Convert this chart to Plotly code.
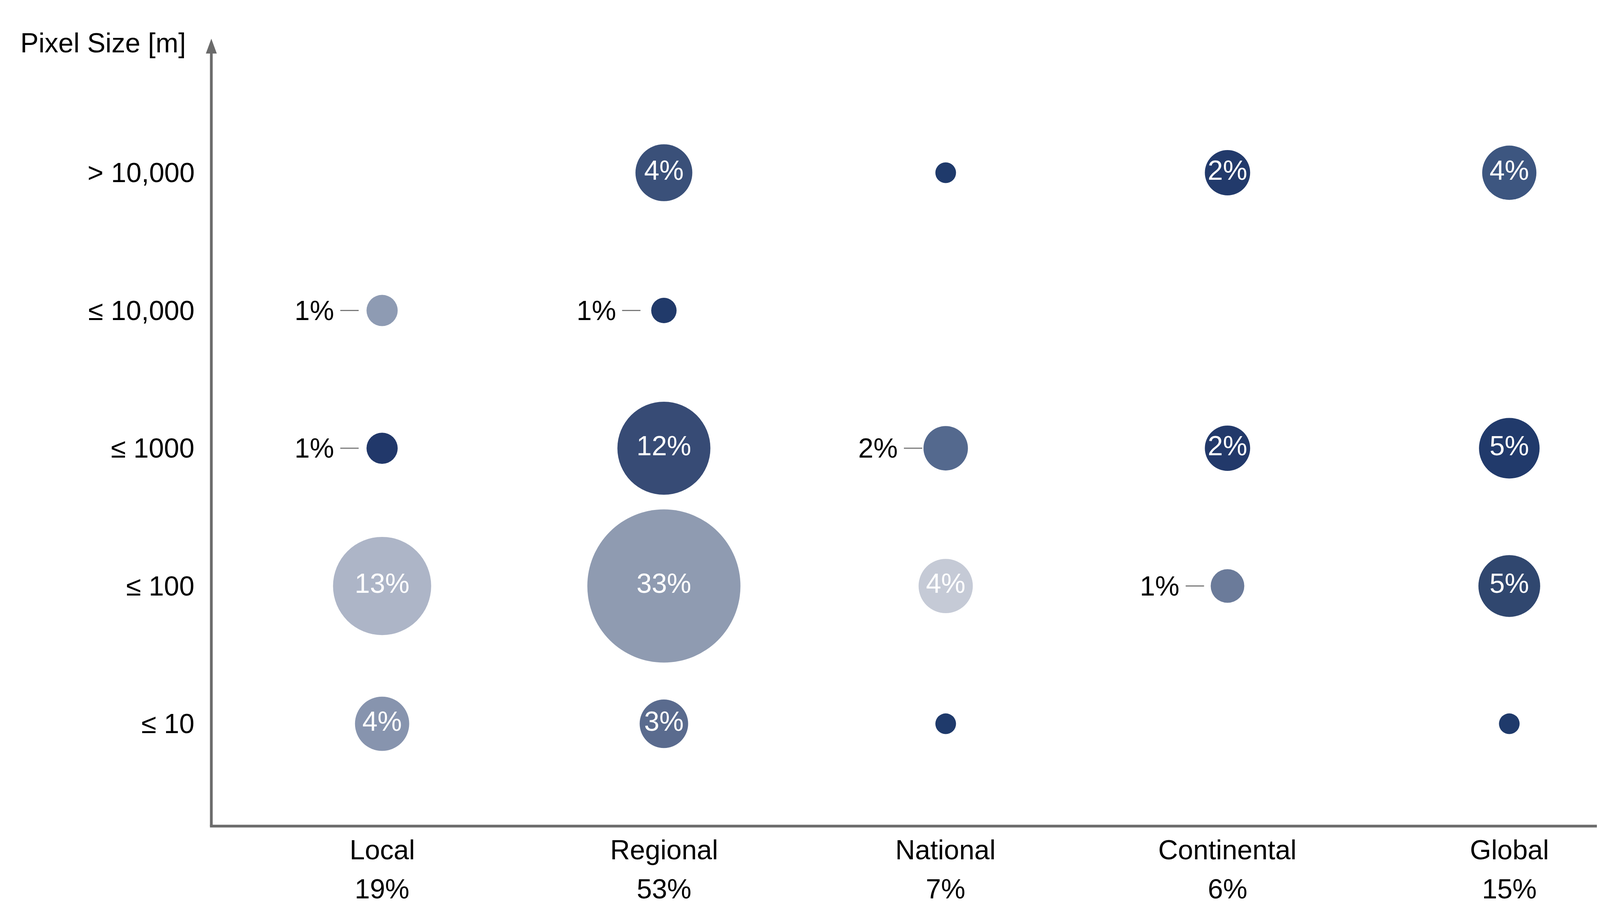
import plotly.graph_objects as go

# ---------------- data ----------------
categories = ["Local", "Regional", "National", "Continental", "Global"]
category_totals = ["19%", "53%", "7%", "6%", "15%"]
pixel_sizes = ["≤ 10", "≤ 100", "≤ 1000", "≤ 10,000", "> 10,000"]
axis_title = "Pixel Size [m]"

# shares (%) per category, ordered as pixel_sizes; None = no bubble
# (consistent with the rounded labels)
share_local = [3.6, 13, 1.0, 1.0, None]
share_regional = [2.8, 33, 11.6, 0.6, 4.0]
share_national = [0.35, 3.6, 2.3, None, 0.35]
share_continental = [None, 1.2, 2.4, None, 2.4]
share_global = [0.35, 4.8, 4.6, None, 3.6]
shares = [share_local, share_regional, share_national, share_continental, share_global]

# bubbles whose label is drawn outside, to the left with a leader line
outside_labels = [
    ("Local", "≤ 10,000"),
    ("Local", "≤ 1000"),
    ("Regional", "≤ 10,000"),
    ("National", "≤ 1000"),
    ("Continental", "≤ 100"),
]

# ---------------- styles ----------------
colors_local = ["#8794ae", "#adb5c7", "#21386a", "#8e9bb3", None]
colors_regional = ["#5a6b8e", "#8f9bb1", "#374b75", "#213a6a", "#3a5079"]
colors_national = ["#1f3a6b", "#c5cad6", "#54698e", None, "#1f3a6b"]
colors_continental = [None, "#6b7b9a", "#22396a", None, "#223a6b"]
colors_global = ["#1f3a6b", "#30476f", "#213a6b", None, "#3d5680"]
colors = [colors_local, colors_regional, colors_national, colors_continental, colors_global]

FONT = "Arial, Liberation Sans, sans-serif"
FS = 70
AXIS_COLOR = "#6b6b6b"
W, H = 4312, 2321
ML, MR, MT, MB = 533, 14, 91, 215


def bubble_diameter(v):
    return 14 + 65.8 * v ** 0.5


fig = go.Figure()
annotations = []
shapes = []

for ci, (cat, vals, cols) in enumerate(zip(categories, shares, colors)):
    xs, ys, sizes, fills, texts = [], [], [], [], []
    for ri, v in enumerate(vals):
        if v is None:
            continue
        label = f"{round(v)}%" if v >= 0.5 else ""
        xs.append(ci)
        ys.append(ri)
        sizes.append(bubble_diameter(v))
        fills.append(cols[ri])
        if (cat, pixel_sizes[ri]) in outside_labels:
            annotations.append(dict(
                x=ci, y=ri, xref="x", yref="y", text=label, showarrow=False,
                xanchor="right", yanchor="middle", xshift=-121,
                font=dict(family=FONT, size=FS, color="#000000")))
            shapes.append(dict(
                type="line", xref="x", yref="y",
                xsizemode="pixel", xanchor=ci, x0=-107, x1=-60,
                ysizemode="pixel", yanchor=ri, y0=0, y1=0,
                line=dict(color="#7a7a7a", width=3)))
            label = ""
        texts.append(label)
    fig.add_trace(go.Scatter(
        x=xs, y=ys, mode="markers+text", name=cat, showlegend=False,
        marker=dict(size=sizes, sizemode="diameter", color=fills, opacity=1,
                    line=dict(width=0)),
        text=texts, textposition="middle center",
        textfont=dict(family=FONT, size=FS, color="#ffffff"),
        cliponaxis=False,
    ))

# y-axis category labels
for ri, lab in enumerate(pixel_sizes):
    annotations.append(dict(
        x=0, y=ri, xref="paper", yref="y", text=lab, showarrow=False,
        xanchor="right", yanchor="middle", xshift=-41,
        font=dict(family=FONT, size=FS, color="#000000")))

# x-axis category labels and totals
for ci, (cat, tot) in enumerate(zip(categories, category_totals)):
    annotations.append(dict(
        x=ci, y=0, xref="x", yref="paper", text=cat, showarrow=False,
        xanchor="center", yanchor="middle", yshift=-61,
        font=dict(family=FONT, size=FS, color="#000000")))
    annotations.append(dict(
        x=ci, y=0, xref="x", yref="paper", text=tot, showarrow=False,
        xanchor="center", yanchor="middle", yshift=-161,
        font=dict(family=FONT, size=FS, color="#000000")))

# axis title
annotations.append(dict(
    x=0, y=1, xref="paper", yref="paper", text=axis_title, showarrow=False,
    xanchor="right", yanchor="middle", xshift=-63, yshift=-11,
    font=dict(family=FONT, size=FS, color="#000000")))

# axis lines with arrow on y
plot_h = H - MT - MB
shapes.append(dict(type="line", xref="paper", yref="paper",
                   x0=-3.5 / (W - ML - MR), x1=1, y0=0, y1=0,
                   line=dict(color=AXIS_COLOR, width=7)))
shapes.append(dict(type="line", xref="paper", yref="paper",
                   x0=0, x1=0, y0=0, y1=1 - 30 / plot_h,
                   line=dict(color=AXIS_COLOR, width=7)))
shapes.append(dict(type="path", xref="paper", yref="paper",
                   xsizemode="pixel", xanchor=0, ysizemode="pixel", yanchor=1,
                   path="M -14,-38 L 14,-38 L 0,0 Z",
                   fillcolor=AXIS_COLOR, line=dict(width=0)))

fig.update_layout(
    width=W, height=H, autosize=False,
    margin=dict(l=ML, r=MR, t=MT, b=MB, pad=0),
    paper_bgcolor="white", plot_bgcolor="white",
    xaxis=dict(range=[-0.606, 4.613], showgrid=False, zeroline=False,
               showticklabels=False, showline=False, ticks=""),
    yaxis=dict(range=[-0.743, 4.973], showgrid=False, zeroline=False,
               showticklabels=False, showline=False, ticks=""),
    annotations=annotations, shapes=shapes,
    font=dict(family=FONT, size=FS, color="#000000"),
)

fig.write_html("out.html")
